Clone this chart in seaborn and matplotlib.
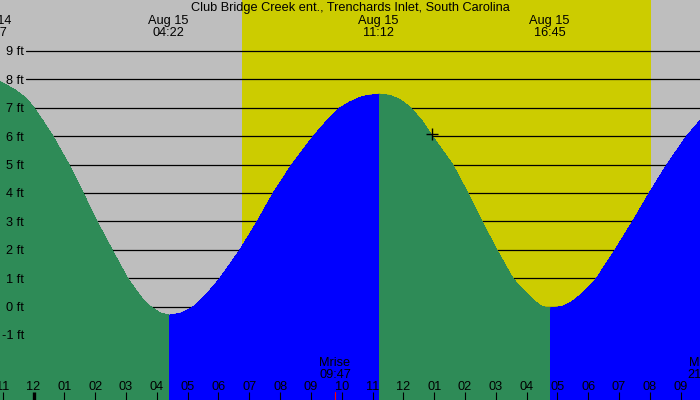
import numpy as np
import pandas as pd
import matplotlib
matplotlib.use("Agg")
import matplotlib.pyplot as plt
import matplotlib.transforms as mtransforms
import seaborn as sns

# ---------------- data ----------------
title = "Club Bridge Creek ent., Trenchards Inlet, South Carolina"

# hours since Aug 15 00:00 and tide height in feet
tide_hours = [-1.38, -1.09, -0.60, -0.25, 0.02, 0.30, 0.63, 1.15, 1.61, 2.06, 2.55, 2.80, 3.05, 3.30,
              3.55, 3.78, 4.10, 4.40,
              4.75, 4.95, 5.19, 5.60, 6.05, 6.70, 7.26, 7.78, 8.38, 9.08, 9.50, 9.95, 10.25, 10.59,
              10.81, 11.22,
              11.55, 11.89, 12.24, 12.60, 12.94, 13.60, 14.09, 14.55, 15.03, 15.55, 15.80, 16.00,
              16.25, 16.49, 16.65, 16.78,
              17.14, 17.45, 17.73, 18.00, 18.27, 18.87, 19.44, 19.98, 20.55, 21.19, 21.65]
tide_feet = [8.00, 7.93, 7.63, 7.35, 7.00, 6.55, 6.00, 5.00, 4.00, 3.00, 2.00, 1.50, 1.00, 0.62,
             0.26, 0.02, -0.22, -0.30,
             -0.24, -0.14, 0.00, 0.42, 1.00, 2.00, 3.00, 4.00, 5.00, 6.00, 6.52, 7.00, 7.20, 7.36,
             7.43, 7.48,
             7.44, 7.29, 7.00, 6.55, 6.00, 5.00, 4.00, 3.00, 2.00, 1.00, 0.68, 0.46,
             0.20, 0.01, -0.03, -0.04,
             0.00, 0.16, 0.40, 0.68, 1.00, 2.00, 3.00, 4.00, 5.00, 6.00, 6.58]

event_days = ["Aug 14", "Aug 15", "Aug 15", "Aug 15"]
event_times = ["22:37", "04:22", "11:12", "16:45"]
event_hours = [-1.383, 4.367, 11.2, 16.75]

hour_ticks = list(range(-1, 22))
hour_labels = ["11", "12", "01", "02", "03", "04", "05", "06", "07", "08", "09", "10", "11",
               "12", "01", "02", "03", "04", "05", "06", "07", "08", "09"]

ft_levels = [-1, 0, 1, 2, 3, 4, 5, 6, 7, 8, 9]
ft_labels = ["-1 ft", "0 ft", "1 ft", "2 ft", "3 ft", "4 ft", "5 ft", "6 ft", "7 ft", "8 ft", "9 ft"]

sunrise_hour = 6.77
sunset_hour = 20.04

moon_labels = ["Mrise", "Mset"]
moon_times = ["09:47", "21:43"]
moon_hours = [9.783, 21.72]

now_hour = 12.93
now_feet = 6.07

# ---------------- style ----------------
C_NIGHT = "#BEBEBE"
C_DAY = "#CCCC00"
C_FALL = "#2E8B57"
C_RISE = "#0000FF"

sns.set_style("white")
plt.rcParams["font.family"] = ["Liberation Sans", "DejaVu Sans"]
FS = 9.2

W, H = 700, 400
fig = plt.figure(figsize=(7, 4), dpi=100)
ax = fig.add_axes([0, 0, 1, 1])
ax.set_facecolor(C_NIGHT)
ax.set_xlim(-1.087, 21.625)
ax.set_ylim(-3.284, 10.795)
for s in ax.spines.values():
    s.set_visible(False)

ax.axvspan(sunrise_hour, sunset_hour, color=C_DAY, lw=0, zorder=0.5)

for lv in ft_levels:
    ax.axhline(lv, xmin=26 / W, xmax=1, color="black", lw=0.9, zorder=1)

# tide fill, coloured by rising / falling
df = pd.DataFrame({"hour": tide_hours, "feet": tide_feet})
ft = df["feet"].to_numpy()
rising = np.diff(ft) > 0
start = 0
for i in range(1, len(rising) + 1):
    if i == len(rising) or rising[i] != rising[start]:
        seg = df.iloc[start:i + 1]
        col = C_RISE if rising[start] else C_FALL
        ax.fill_between(seg["hour"], seg["feet"], -10, color=col, lw=0, zorder=2,
                        antialiased=False)
        sns.lineplot(data=seg, x="hour", y="feet", color=col, lw=0.6, ax=ax,
                     estimator=None, sort=False, legend=False, zorder=2.1)
        start = i

ax.plot([now_hour], [now_feet], marker="+", ms=8, mew=1.0, color="black", zorder=4)

# x ticks inside bottom edge
ax.set_axisbelow(False)
ax.set_xticks(hour_ticks)
ax.tick_params(axis="x", direction="in", length=5.8, width=0.8, color="black",
               bottom=True, labelbottom=False)
ax.tick_params(axis="y", left=False, labelleft=False)
ax.set_xlabel("")
ax.set_ylabel("")
for t, tk in zip(hour_ticks, ax.xaxis.get_major_ticks()):
    if t == 0:
        tk.tick1line.set_markeredgewidth(2.4)

bx = mtransforms.blended_transform_factory(ax.transData, ax.transAxes)
by = mtransforms.blended_transform_factory(ax.transAxes, ax.transData)

for t, lab in zip(hour_ticks, hour_labels):
    ax.text(t, 1 - 390 / H, lab, transform=bx, ha="center", va="baseline",
            fontsize=FS, color="black", zorder=5)

for lv, lab in zip(ft_levels, ft_labels):
    ax.text(24 / W, lv - 0.151, lab, transform=by, ha="right", va="baseline",
            fontsize=FS, color="black", zorder=5)

for d, tm, h in zip(event_days, event_times, event_hours):
    ax.text(h, 1 - 24.3 / H, d, transform=bx, ha="center", va="baseline",
            fontsize=FS, color="black", zorder=5)
    ax.text(h, 1 - 36.2 / H, tm, transform=bx, ha="center", va="baseline",
            fontsize=FS, color="black", zorder=5)

for lab, tm, h in zip(moon_labels, moon_times, moon_hours):
    ax.text(h, 1 - 366 / H, lab, transform=bx, ha="center", va="baseline",
            fontsize=FS, color="black", zorder=5)
    ax.text(h, 1 - 377.8 / H, tm, transform=bx, ha="center", va="baseline",
            fontsize=FS, color="black", zorder=5)
    ax.plot([h, h], [0, 8 / H], transform=bx, color="red", lw=0.8, zorder=5)

fig.text(0.5, 1 - 11.5 / H, title, ha="center", va="baseline", fontsize=FS, color="black")

fig.savefig("out.png", dpi=100)
